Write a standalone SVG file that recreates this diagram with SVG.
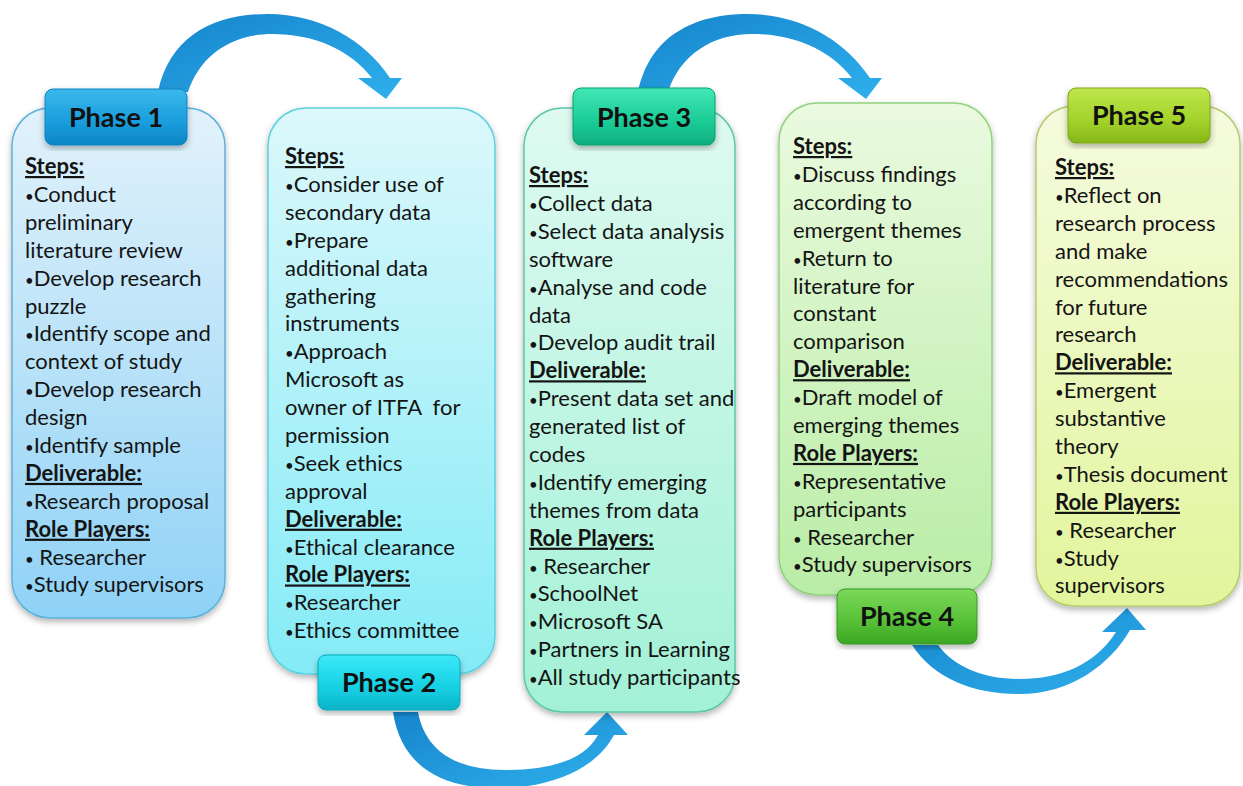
<svg xmlns="http://www.w3.org/2000/svg" width="1243" height="786" viewBox="0 0 1243 786">
<defs>
<style>
.t{font-family:Lato,"Liberation Sans",sans-serif;font-size:22px;fill:#141414;white-space:pre}
.h{font-weight:bold;text-decoration:underline}
.b{font-size:15px}
.ph{font-family:Lato,"Liberation Sans",sans-serif;font-size:27px;font-weight:bold;fill:#111;text-anchor:middle}
.arr{fill:url(#ga)}
</style>
<filter id="sh" x="-10%" y="-10%" width="120%" height="120%"><feDropShadow dx="0" dy="3" stdDeviation="3" flood-color="#000" flood-opacity="0.3"/></filter>
<linearGradient id="ga" x1="0" y1="0" x2="1" y2="1"><stop offset="0" stop-color="#1684cc"/><stop offset="1" stop-color="#2fb0ec"/></linearGradient>
<linearGradient id="b1" x1="0" y1="0" x2="0" y2="1"><stop offset="0" stop-color="#e2f2fb"/><stop offset="1" stop-color="#8fd2f6"/></linearGradient>
<linearGradient id="b2" x1="0" y1="0" x2="0" y2="1"><stop offset="0" stop-color="#dcf8fb"/><stop offset="1" stop-color="#84ebf6"/></linearGradient>
<linearGradient id="b3" x1="0" y1="0" x2="0" y2="1"><stop offset="0" stop-color="#defaf1"/><stop offset="1" stop-color="#a2f1d6"/></linearGradient>
<linearGradient id="b4" x1="0" y1="0" x2="0" y2="1"><stop offset="0" stop-color="#eafadf"/><stop offset="1" stop-color="#b9eda6"/></linearGradient>
<linearGradient id="b5" x1="0" y1="0" x2="0" y2="1"><stop offset="0" stop-color="#f5fbde"/><stop offset="1" stop-color="#e2f59c"/></linearGradient>
<linearGradient id="l1" x1="0" y1="0" x2="0" y2="1"><stop offset="0" stop-color="#3bb8ec"/><stop offset="0.6" stop-color="#1a9ddc"/><stop offset="1" stop-color="#0c86c6"/></linearGradient>
<linearGradient id="l2" x1="0" y1="0" x2="0" y2="1"><stop offset="0" stop-color="#3be8f6"/><stop offset="0.6" stop-color="#16d0e4"/><stop offset="1" stop-color="#0bb2c6"/></linearGradient>
<linearGradient id="l3" x1="0" y1="0" x2="0" y2="1"><stop offset="0" stop-color="#40e8b4"/><stop offset="0.6" stop-color="#1acb96"/><stop offset="1" stop-color="#0fae7e"/></linearGradient>
<linearGradient id="l4" x1="0" y1="0" x2="0" y2="1"><stop offset="0" stop-color="#7cd85a"/><stop offset="0.6" stop-color="#56c036"/><stop offset="1" stop-color="#3ca524"/></linearGradient>
<linearGradient id="l5" x1="0" y1="0" x2="0" y2="1"><stop offset="0" stop-color="#c0e64c"/><stop offset="0.6" stop-color="#a2d22a"/><stop offset="1" stop-color="#86b618"/></linearGradient>
</defs>
<rect width="1243" height="786" fill="#fff"/>

<g id="connectors">
<path class="arr" d="M158,92 C170,35 215,14 268,14 C320,14 365,40 390,78 L402,78 L386,99 L358,78 L372,78 C350,50 315,34 272,34 C232,34 200,55 188,92 Z"/>
<path class="arr" transform="translate(480,0)" d="M158,92 C170,35 215,14 268,14 C320,14 365,40 390,78 L402,78 L386,99 L358,78 L372,78 C350,50 315,34 272,34 C232,34 200,55 188,92 Z"/>
<path class="arr" d="M393,712 C402,772 450,790 505,788 C560,786 598,765 614,735 L628,735 L607,712 L584,735 L598,735 C585,760 550,770 505,770 C455,770 425,750 418,712 Z"/>
<path class="arr" d="M912,645 C935,680 975,694 1020,694 C1070,694 1110,665 1130,630 L1146,630 L1127,608 L1102,632 L1116,632 C1095,665 1060,679 1020,679 C985,679 955,668 938,645 Z"/>
</g>

<g id="phase1">
<rect x="12" y="108" width="213" height="510" rx="38" fill="url(#b1)" stroke="#5cb0dc" stroke-width="1.5" filter="url(#sh)"/>
<rect x="45" y="89" width="142" height="56" rx="8" fill="url(#l1)" stroke="#0f84c0" stroke-width="1" filter="url(#sh)"/>
<text class="ph" x="116" y="127">Phase 1</text>
<text class="t" x="25" y="174"><tspan class="h">Steps:</tspan><tspan x="25" dy="27.9"><tspan class="b">•</tspan>Conduct</tspan><tspan x="25" dy="27.9">preliminary</tspan><tspan x="25" dy="27.9">literature review</tspan><tspan x="25" dy="27.9"><tspan class="b">•</tspan>Develop research</tspan><tspan x="25" dy="27.9">puzzle</tspan><tspan x="25" dy="27.9"><tspan class="b">•</tspan>Identify scope and</tspan><tspan x="25" dy="27.9">context of study</tspan><tspan x="25" dy="27.9"><tspan class="b">•</tspan>Develop research</tspan><tspan x="25" dy="27.9">design</tspan><tspan x="25" dy="27.9"><tspan class="b">•</tspan>Identify sample</tspan><tspan x="25" dy="27.9" class="h">Deliverable:</tspan><tspan x="25" dy="27.9"><tspan class="b">•</tspan>Research proposal</tspan><tspan x="25" dy="27.9" class="h">Role Players:</tspan><tspan x="25" dy="27.9"><tspan class="b">•</tspan> Researcher</tspan><tspan x="25" dy="27.9"><tspan class="b">•</tspan>Study supervisors</tspan></text>
</g>

<g id="phase2">
<rect x="268" y="108" width="227" height="566" rx="38" fill="url(#b2)" stroke="#5ccfe0" stroke-width="1.5" filter="url(#sh)"/>
<rect x="318" y="655" width="142" height="55" rx="8" fill="url(#l2)" stroke="#0aaabc" stroke-width="1" filter="url(#sh)"/>
<text class="ph" x="389" y="692">Phase 2</text>
<text class="t" x="285" y="164"><tspan class="h">Steps:</tspan><tspan x="285" dy="27.9"><tspan class="b">•</tspan>Consider use of</tspan><tspan x="285" dy="27.9">secondary data</tspan><tspan x="285" dy="27.9"><tspan class="b">•</tspan>Prepare</tspan><tspan x="285" dy="27.9">additional data</tspan><tspan x="285" dy="27.9">gathering</tspan><tspan x="285" dy="27.9">instruments</tspan><tspan x="285" dy="27.9"><tspan class="b">•</tspan>Approach</tspan><tspan x="285" dy="27.9">Microsoft as</tspan><tspan x="285" dy="27.9">owner of ITFA  for</tspan><tspan x="285" dy="27.9">permission</tspan><tspan x="285" dy="27.9"><tspan class="b">•</tspan>Seek ethics</tspan><tspan x="285" dy="27.9">approval</tspan><tspan x="285" dy="27.9" class="h">Deliverable:</tspan><tspan x="285" dy="27.9"><tspan class="b">•</tspan>Ethical clearance</tspan><tspan x="285" dy="27.9" class="h">Role Players:</tspan><tspan x="285" dy="27.9"><tspan class="b">•</tspan>Researcher</tspan><tspan x="285" dy="27.9"><tspan class="b">•</tspan>Ethics committee</tspan></text>
</g>

<g id="phase3">
<rect x="524" y="108" width="211" height="604" rx="38" fill="url(#b3)" stroke="#5cc8a8" stroke-width="1.5" filter="url(#sh)"/>
<rect x="573" y="88" width="142" height="57" rx="8" fill="url(#l3)" stroke="#0c9e72" stroke-width="1" filter="url(#sh)"/>
<text class="ph" x="644" y="127">Phase 3</text>
<text class="t" x="529" y="183"><tspan class="h">Steps:</tspan><tspan x="529" dy="27.9"><tspan class="b">•</tspan>Collect data</tspan><tspan x="529" dy="27.9"><tspan class="b">•</tspan>Select data analysis</tspan><tspan x="529" dy="27.9">software</tspan><tspan x="529" dy="27.9"><tspan class="b">•</tspan>Analyse and code</tspan><tspan x="529" dy="27.9">data</tspan><tspan x="529" dy="27.9"><tspan class="b">•</tspan>Develop audit trail</tspan><tspan x="529" dy="27.9" class="h">Deliverable:</tspan><tspan x="529" dy="27.9"><tspan class="b">•</tspan>Present data set and</tspan><tspan x="529" dy="27.9">generated list of</tspan><tspan x="529" dy="27.9">codes</tspan><tspan x="529" dy="27.9"><tspan class="b">•</tspan>Identify emerging</tspan><tspan x="529" dy="27.9">themes from data</tspan><tspan x="529" dy="27.9" class="h">Role Players:</tspan><tspan x="529" dy="27.9"><tspan class="b">•</tspan> Researcher</tspan><tspan x="529" dy="27.9"><tspan class="b">•</tspan>SchoolNet</tspan><tspan x="529" dy="27.9"><tspan class="b">•</tspan>Microsoft SA</tspan><tspan x="529" dy="27.9"><tspan class="b">•</tspan>Partners in Learning</tspan><tspan x="529" dy="27.9"><tspan class="b">•</tspan>All study participants</tspan></text>
</g>

<g id="phase4">
<rect x="779" y="103" width="213" height="492" rx="38" fill="url(#b4)" stroke="#90d27c" stroke-width="1.5" filter="url(#sh)"/>
<rect x="837" y="589" width="140" height="55" rx="8" fill="url(#l4)" stroke="#369a20" stroke-width="1" filter="url(#sh)"/>
<text class="ph" x="907" y="626">Phase 4</text>
<text class="t" x="793" y="154"><tspan class="h">Steps:</tspan><tspan x="793" dy="27.9"><tspan class="b">•</tspan>Discuss findings</tspan><tspan x="793" dy="27.9">according to</tspan><tspan x="793" dy="27.9">emergent themes</tspan><tspan x="793" dy="27.9"><tspan class="b">•</tspan>Return to</tspan><tspan x="793" dy="27.9">literature for</tspan><tspan x="793" dy="27.9">constant</tspan><tspan x="793" dy="27.9">comparison</tspan><tspan x="793" dy="27.9" class="h">Deliverable:</tspan><tspan x="793" dy="27.9"><tspan class="b">•</tspan>Draft model of</tspan><tspan x="793" dy="27.9">emerging themes</tspan><tspan x="793" dy="27.9" class="h">Role Players:</tspan><tspan x="793" dy="27.9"><tspan class="b">•</tspan>Representative</tspan><tspan x="793" dy="27.9">participants</tspan><tspan x="793" dy="27.9"><tspan class="b">•</tspan> Researcher</tspan><tspan x="793" dy="27.9"><tspan class="b">•</tspan>Study supervisors</tspan></text>
</g>

<g id="phase5">
<rect x="1036" y="106" width="204" height="500" rx="38" fill="url(#b5)" stroke="#b6cc6c" stroke-width="1.5" filter="url(#sh)"/>
<rect x="1068" y="88" width="142" height="55" rx="8" fill="url(#l5)" stroke="#7ea416" stroke-width="1" filter="url(#sh)"/>
<text class="ph" x="1139" y="125">Phase 5</text>
<text class="t" x="1055" y="175"><tspan class="h">Steps:</tspan><tspan x="1055" dy="27.9"><tspan class="b">•</tspan>Reflect on</tspan><tspan x="1055" dy="27.9">research process</tspan><tspan x="1055" dy="27.9">and make</tspan><tspan x="1055" dy="27.9">recommendations</tspan><tspan x="1055" dy="27.9">for future</tspan><tspan x="1055" dy="27.9">research</tspan><tspan x="1055" dy="27.9" class="h">Deliverable:</tspan><tspan x="1055" dy="27.9"><tspan class="b">•</tspan>Emergent</tspan><tspan x="1055" dy="27.9">substantive</tspan><tspan x="1055" dy="27.9">theory</tspan><tspan x="1055" dy="27.9"><tspan class="b">•</tspan>Thesis document</tspan><tspan x="1055" dy="27.9" class="h">Role Players:</tspan><tspan x="1055" dy="27.9"><tspan class="b">•</tspan> Researcher</tspan><tspan x="1055" dy="27.9"><tspan class="b">•</tspan>Study</tspan><tspan x="1055" dy="27.9">supervisors</tspan></text>
</g>
</svg>
